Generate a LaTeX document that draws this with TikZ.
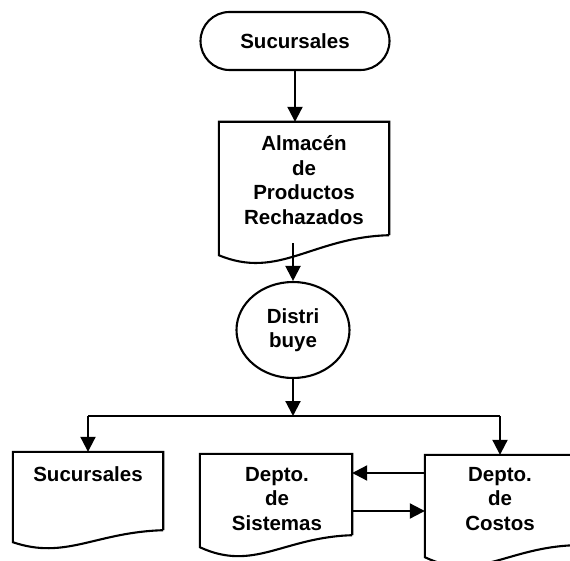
\documentclass[tikz,border=0pt]{standalone}
\usepackage{fontspec}
\setmainfont{Liberation Sans}
\usetikzlibrary{shapes.geometric,shapes.misc,arrows.meta,calc}

\tikzset{
  outline/.style={line width=2.1pt, line join=miter},
  flow/.style={line width=2.1pt, -{Triangle[length=15pt,width=15pt]}},
  lbl/.style={align=center, font=\fontsize{20.5}{24.5}\selectfont\bfseries, inner sep=0pt},
  terminal/.style={rounded rectangle, draw, outline, minimum width=189pt, minimum height=58pt, inner sep=0pt},
  process/.style={ellipse, draw, outline, minimum width=113pt, minimum height=96pt, inner sep=0pt},
  docarea/.style={rectangle, inner sep=0pt},
}

% document symbol: flat top and sides, wavy bottom edge
% #1 node, #2 drop of left corner, #3 first control, #4 second control
\newcommand\docoutline[4]{%
  \draw[outline] (#1.south east) -- (#1.north east) -- (#1.north west)
    -- ($(#1.south west)+(0,#2)$) .. controls +#3 and +#4 .. (#1.south east);
}

\begin{document}
\begin{tikzpicture}[x=1pt,y=-1pt]
  \useasboundingbox (0,0) rectangle (570,561);
  \clip (0,0) rectangle (570,561);

  % start
  \node[terminal, lbl] (term) at (295,41) {Sucursales};

  % rejected products store
  \node[docarea, minimum width=170pt, minimum height=113pt] (alm) at (304,178.5) {};
  \docoutline{alm}{20}{(60,25)}{(-77,2)}
  \node[lbl] (almtxt) at (304,180) {Almacén\\de\\Productos\\Rechazados};

  % distribution
  \node[process, lbl] (dist) at (293,330) {Distri\\buye};

  % destinations
  \node[docarea, minimum width=150pt, minimum height=78pt] (suc) at (88,491) {};
  \docoutline{suc}{12}{(53,18)}{(-68,2)}
  \node[lbl, anchor=north] (suctxt) at ($(suc.north)+(0,15)$) {Sucursales};

  \node[docarea, minimum width=152pt, minimum height=81pt] (sis) at (276,494.5) {};
  \docoutline{sis}{12}{(54,25)}{(-69,2)}
  \node[lbl] (sistxt) at (277,499) {Depto.\\de\\Sistemas};

  \node[docarea, minimum width=150pt, minimum height=90pt] (cos) at (500,500) {};
  \docoutline{cos}{12}{(53,25)}{(-68,2)}
  \node[lbl] (costxt) at (500,499) {Depto.\\de\\Costos};

  % connectors
  \draw[flow] (term.south) -- (term.south |- alm.north);
  \coordinate (almout) at ($(alm.south -| dist.north)+(0,8)$);
  \draw[flow] (almout) -- (dist.north);
  \coordinate (bus) at (dist.south |- 0,416);
  \draw[flow] (dist.south) -- (bus);
  \draw[line width=2.1pt] (bus) -- (bus -| suc.north);
  \draw[line width=2.1pt] (bus) -- (bus -| cos.north);
  \draw[flow] (bus -| suc.north) -- (suc.north);
  \draw[flow] (bus -| cos.north) -- (cos.north);
  \draw[flow] (cos.west |- 0,473) -- (sis.east |- 0,473);
  \draw[flow] (sis.east |- 0,511) -- (cos.west |- 0,511);
\end{tikzpicture}
\end{document}
